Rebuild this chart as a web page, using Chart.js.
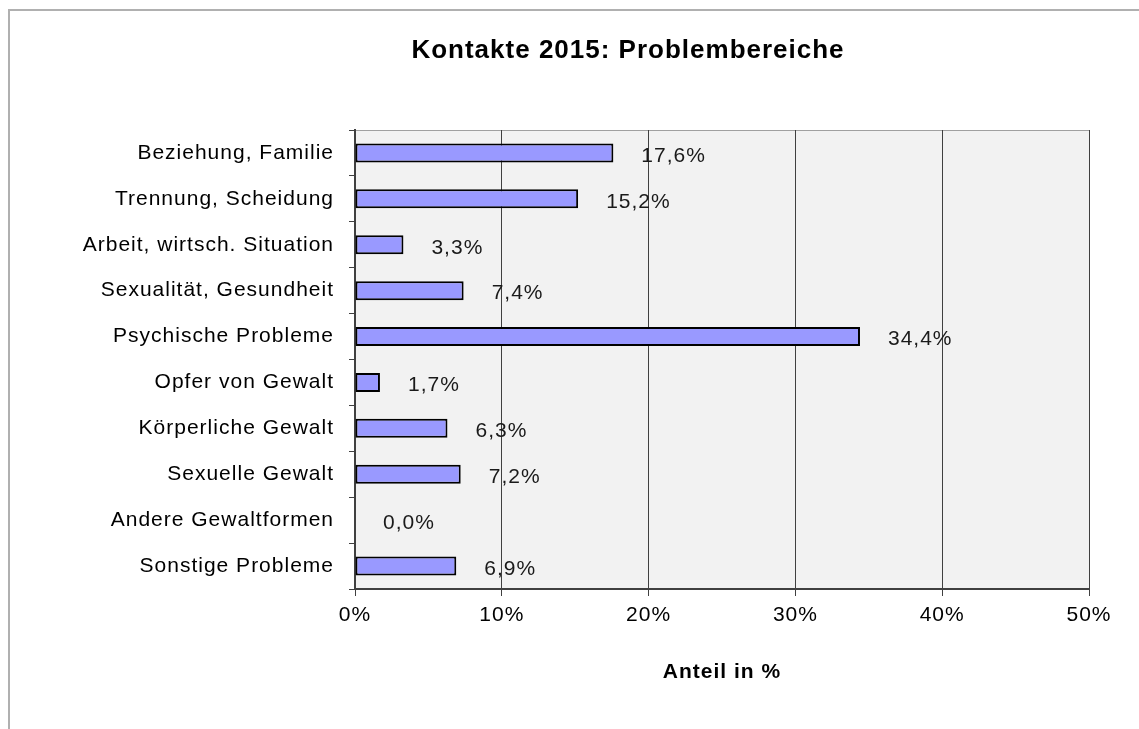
<!DOCTYPE html>
<html>
<head>
<meta charset="utf-8">
<script src="https://cdn.jsdelivr.net/npm/chart.js@4/dist/chart.umd.min.js"></script>
<style>
  html, body { margin: 0; padding: 0; background: #fff; }
  #wrap { width: 1139px; height: 729px; position: relative; }
</style>
</head>
<body>
<div id="wrap"><canvas id="problemChart"></canvas></div>
<script>
// ---------------- DATA ----------------

const categories = [
    "Beziehung, Familie",
    "Trennung, Scheidung",
    "Arbeit, wirtsch. Situation",
    "Sexualität, Gesundheit",
    "Psychische Probleme",
    "Opfer von Gewalt",
    "Körperliche Gewalt",
    "Sexuelle Gewalt",
    "Andere Gewaltformen",
    "Sonstige Probleme"
];

const shares = [17.6, 15.2, 3.3, 7.4, 34.4, 1.7, 6.3, 7.2, 0.0, 6.9];

const xTicks = [0, 10, 20, 30, 40, 50];

const chartTitle = "Kontakte 2015: Problembereiche";
const axisTitle = "Anteil in %";

const FONT = "Arial, 'Liberation Sans', sans-serif";

// ---------------- PLUGINS ----------------

// the original text is drawn slightly spread out
const spacing = {
    id: "spacing",
    beforeUpdate(chart) { chart.ctx.letterSpacing = "1px"; },
    beforeLayout(chart) { chart.ctx.letterSpacing = "1px"; },
    beforeDraw(chart) { chart.ctx.letterSpacing = "1px"; }
};

// outer frame, plot background and chart title
const backdrop = {
    id: "backdrop",
    beforeDraw(chart) {
        const ctx = chart.ctx;
        const a = chart.chartArea;
        ctx.save();
        ctx.fillStyle = "#ffffff";
        ctx.fillRect(0, 0, chart.width, chart.height);

        ctx.strokeStyle = "#b0b0b0";
        ctx.lineWidth = 2;
        ctx.beginPath();
        ctx.moveTo(9, chart.height + 2);
        ctx.lineTo(9, 10);
        ctx.lineTo(chart.width + 2, 10);
        ctx.stroke();

        ctx.fillStyle = "#f2f2f2";
        ctx.fillRect(a.left, a.top, a.right - a.left, a.bottom - a.top);
        ctx.strokeStyle = "#a0a0a0";
        ctx.lineWidth = 1;
        ctx.strokeRect(a.left + 0.5, a.top + 0.5, a.right - a.left, a.bottom - a.top);

        ctx.fillStyle = "#000";
        ctx.font = "bold 26px " + FONT;
        ctx.textAlign = "center";
        ctx.textBaseline = "middle";
        ctx.fillText(chartTitle, 628, 51);
        ctx.restore();
    }
};

// value labels next to the bars
const valueLabels = {
    id: "valueLabels",
    afterDatasetsDraw(chart) {
        const ctx = chart.ctx;
        const meta = chart.getDatasetMeta(0);
        ctx.save();
        ctx.fillStyle = "#1a1a1a";
        ctx.font = "21px " + FONT;
        ctx.textAlign = "left";
        ctx.textBaseline = "middle";
        meta.data.forEach((bar, i) => {
            const txt = shares[i].toFixed(1).replace(".", ",") + "%";
            ctx.fillText(txt, bar.x + 28, bar.y + 3);
        });
        ctx.restore();
    }
};

// ---------------- BAR CHART ----------------

const ctx = document.getElementById("problemChart");

new Chart(ctx, {

    type: "bar",

    data: {
        labels: categories,
        datasets: [{
            data: shares,
            backgroundColor: "#9999ff",
            borderColor: "#000000",
            borderWidth: 2,
            borderSkipped: false,
            categoryPercentage: 1,
            barPercentage: 0.415
        }]
    },

    options: {
        indexAxis: "y",
        responsive: true,
        maintainAspectRatio: false,
        animation: false,
        layout: {
            padding: { top: 130, left: 0, right: 50, bottom: 0 }
        },
        plugins: {
            legend: { display: false },
            title: { display: false },
            tooltip: { enabled: false }
        },
        scales: {
            x: {
                min: 0,
                max: 50,
                afterBuildTicks(scale) {
                    scale.ticks = xTicks.map(v => ({ value: v }));
                },
                afterFit(scale) {
                    scale.height = 140;
                },
                grid: {
                    color: "#404040",
                    lineWidth: 1,
                    tickLength: 7,
                    drawTicks: true
                },
                border: { color: "#404040", width: 2 },
                ticks: {
                    color: "#000",
                    padding: 7,
                    font: { family: FONT, size: 21 },
                    callback: v => v + "%"
                },
                title: {
                    display: true,
                    text: axisTitle,
                    color: "#000",
                    font: { family: FONT, size: 21, weight: "bold" },
                    padding: { top: 0, bottom: 44 }
                }
            },
            y: {
                afterFit(scale) {
                    scale.width = 355;
                },
                grid: {
                    offset: true,
                    drawOnChartArea: false,
                    color: "#404040",
                    tickLength: 6
                },
                border: { color: "#404040", width: 2 },
                ticks: {
                    color: "#000",
                    padding: 15,
                    font: { family: FONT, size: 21 }
                }
            }
        }
    },

    plugins: [spacing, backdrop, valueLabels]
});
</script>
</body>
</html>
